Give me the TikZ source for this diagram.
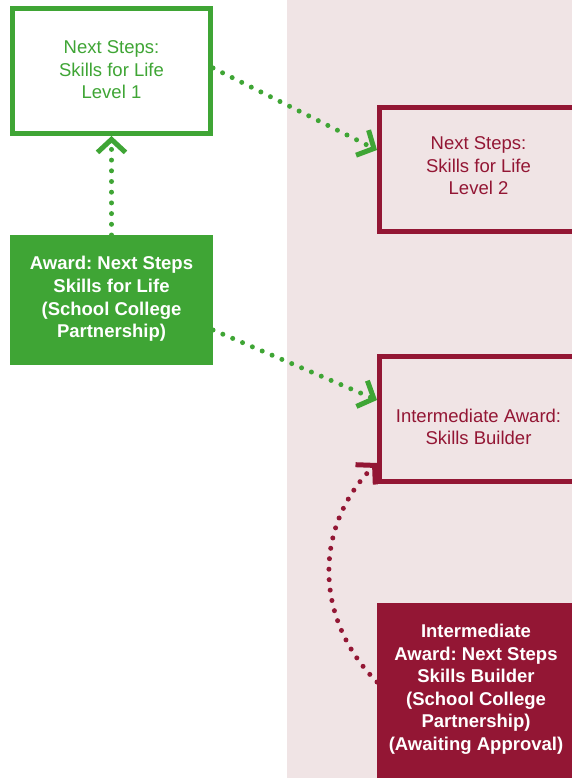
\documentclass[tikz,border=0pt]{standalone}
\usepackage{fontspec}
\setmainfont{Liberation Sans}
\frenchspacing
\usetikzlibrary{arrows.meta}
\definecolor{cgreen}{RGB}{63,165,53}
\definecolor{cred}{RGB}{147,22,52}
\definecolor{cpink}{RGB}{240,228,229}
\tikzset{
  boxg/.style={draw=cgreen, line width=5pt, fill=white, minimum width=198pt, minimum height=125pt, inner sep=0pt},
  boxr/.style={draw=cred, line width=5pt, minimum width=198pt, minimum height=124pt, inner sep=0pt},
  fillg/.style={fill=cgreen, minimum width=203pt, minimum height=130pt, inner sep=0pt, outer sep=0pt},
  fillr/.style={fill=cred, minimum width=203pt, minimum height=175pt, inner sep=0pt, outer sep=0pt},
  txt/.style={align=center, font=\fontsize{18.5}{22.4}\selectfont, inner sep=0pt},
  dotg/.style={draw=cgreen, line width=5pt, line cap=round, dash pattern=on 0pt off 10.7pt,
    -{Straight Barb[length=13pt, width=28pt, line width=5pt]}},
  dotr/.style={draw=cred, line width=5pt, line cap=round, dash pattern=on 0pt off 10.5pt,
    -{Straight Barb[length=13pt, width=28pt, line width=5pt]}},
}
\begin{document}
\begin{tikzpicture}[x=1pt, y=-1pt]
\useasboundingbox (0,0) rectangle (572,778);
\fill[cpink] (287,0) rectangle (572,778);

\node[boxg] (l1) at (111.5,71) {};
\node[txt, text=cgreen] (l1t) at (111.5,70) {Next Steps:\\Skills for Life\\Level 1};

\node[fillg] (aw) at (111.5,300) {};
\node[txt, text=white, font=\fontsize{18.5}{22.6}\selectfont\bfseries] (awt) at (111.5,299) {Award: Next Steps\\Skills for Life\\(School College\\Partnership)};

\node[boxr] (l2) at (478.5,169.5) {};
\node[txt, text=cred] (l2t) at (478.5,165.7) {Next Steps:\\Skills for Life\\Level 2};

\node[boxr, minimum height=125pt] (ib) at (478.5,419) {};
\node[txt, text=cred] (ibt) at (478.5,427) {Intermediate Award:\\Skills Builder};

\node[fillr] (inb) at (478.5,690.5) {};
\node[txt, text=white, font=\fontsize{18.5}{22.5}\selectfont\bfseries] (inbt) at (476,689) {Intermediate\\Award: Next Steps\\Skills Builder\\(School College\\Partnership)\\(Awaiting Approval)};

\draw[dotg] (aw.north) -- (l1.south);
\draw[dotg] ([yshift=3pt]l1.east) -- ([yshift=19.5pt]l2.west);
\draw[dotg] ([yshift=-30pt]aw.east) -- ([yshift=19pt]ib.west);
\draw[dotr] ([yshift=8.5pt]inb.west) to[out=135, in=-135, looseness=1.05] ([yshift=-44pt]ib.west);
\end{tikzpicture}
\end{document}
